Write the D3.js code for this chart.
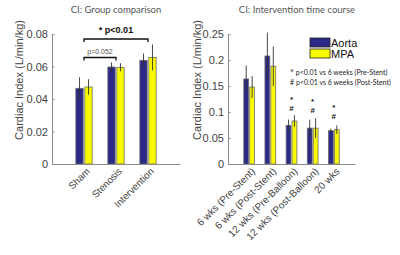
<!DOCTYPE html>
<html><head><meta charset="utf-8">
<script src="https://cdn.jsdelivr.net/npm/d3@7"></script>
<style>body{margin:0;background:#fff}svg{display:block}</style>
</head><body>
<script>
// ---- data ----
const categoriesA = ["Sham", "Stenosis", "Intervention"];
const aortaA = [0.0466, 0.0597, 0.0638];
const mpaA = [0.0474, 0.0595, 0.0656];
const aortaErrA = [0.0068, 0.0028, 0.0042];
const mpaErrA = [0.0048, 0.0025, 0.0080];
const ticksA = [0, 0.02, 0.04, 0.06, 0.08];

const categoriesB = ["6 wks (Pre-Stent)", "6 wks (Post-Stent)", "12 wks (Pre-Balloon)", "12 wks (Post-Balloon)", "20 wks"];
const aortaB = [0.1635, 0.2077, 0.0744, 0.069, 0.064];
const mpaB = [0.148, 0.188, 0.0827, 0.069, 0.066];
const aortaErrB = [0.026, 0.045, 0.011, 0.016, 0.004];
const mpaErrB = [0.021, 0.038, 0.011, 0.019, 0.008];
const marksB = [false, false, true, true, true];
const ticksB = [0, 0.05, 0.1, 0.15, 0.2, 0.25];

const seriesNames = ["Aorta", "MPA"];
const colors = ["#2c2a86", "#fafa00"];

const W = 400, H = 255;
const svg = d3.select("body").append("svg").attr("width", W).attr("height", H);

function panel(opts) {
  const {cats, a, m, ea, em, ticks, xr, yTop, yMax, title, titleX, ylabX, ylabFmt, labFs} = opts;
  const x = d3.scaleLinear().domain([0, cats.length + 1]).range(xr);
  const y = d3.scaleLinear().domain([0, yMax]).range([164, yTop]);
  const g = svg.append("g");
  const bw = 0.23, off = 0.14;
  const rows = cats.map((c, i) => ({i, c, a: a[i], m: m[i], ea: ea[i], em: em[i]}));
  // bars
  [["a", "ea", -off, colors[0]], ["m", "em", off, colors[1]]].forEach(([k, ek, o, col]) => {
    g.selectAll(null).data(rows).enter().append("rect")
      .attr("x", d => x(d.i + 1 + o - bw / 2))
      .attr("width", d => x(d.i + 1 + o + bw / 2) - x(d.i + 1 + o - bw / 2))
      .attr("y", d => y(d[k]))
      .attr("height", d => y(0) - y(d[k]))
      .attr("fill", col).attr("stroke", "#6e6e6e").attr("stroke-width", 0.8);
    g.selectAll(null).data(rows).enter().append("line")
      .attr("x1", d => x(d.i + 1 + o)).attr("x2", d => x(d.i + 1 + o))
      .attr("y1", d => y(d[k] - d[ek])).attr("y2", d => y(d[k] + d[ek]))
      .attr("stroke", "#333").attr("stroke-width", 0.9);
  });
  // axes
  const ya = d3.axisLeft(y).tickValues(ticks).tickFormat(d => d === 0 ? "0" : ylabFmt(d))
    .tickSizeInner(-2.5).tickSizeOuter(0).tickPadding(4);
  const yg = g.append("g").attr("transform", `translate(${xr[0]},0)`).call(ya);
  yg.select(".domain").attr("stroke", "#8a8a8a");
  yg.selectAll(".tick line").attr("stroke", "#8a8a8a");
  yg.selectAll("text").attr("font-family", "Arial, 'Liberation Sans', sans-serif")
    .attr("font-size", 11).attr("fill", "#444");
  const xa = d3.axisBottom(x).tickValues(cats.map((c, i) => i + 1)).tickFormat((d) => cats[d - 1])
    .tickSizeInner(0).tickSizeOuter(0).tickPadding(0);
  const xg = g.append("g").attr("transform", "translate(0,164)").call(xa);
  xg.select(".domain").attr("stroke", "#8a8a8a");
  xg.selectAll("text").attr("font-family", "Arial, 'Liberation Sans', sans-serif")
    .attr("font-size", labFs).attr("fill", "#444")
    .attr("text-anchor", "end").attr("dy", 0)
    .attr("transform", "translate(6,8) rotate(-45)");
  // title
  svg.append("text").attr("x", titleX).attr("y", 12.5).attr("text-anchor", "middle")
    .attr("font-family", "Lato, 'Open Sans', sans-serif").attr("font-size", 9.5).attr("fill", "#555")
    .text(title);
  // y label
  svg.append("text").attr("transform", `translate(${ylabX},80) rotate(-90)`)
    .attr("text-anchor", "middle").attr("font-family", "Arial, 'Liberation Sans', sans-serif")
    .attr("font-size", 11).attr("fill", "#444").text("Cardiac Index (L/min/kg)");
  return {x, y, g};
}

const fmt2 = d3.format(".2f");
const A = panel({cats: categoriesA, a: aortaA, m: mpaA, ea: aortaErrA, em: mpaErrA, ticks: ticksA,
  xr: [52, 180], yTop: 34, yMax: 0.08, title: "CI: Group comparison", titleX: 116, ylabX: 23,
  ylabFmt: fmt2, labFs: 9.8});
const B = panel({cats: categoriesB, a: aortaB, m: mpaB, ea: aortaErrB, em: mpaErrB, ticks: ticksB,
  xr: [228, 355], yTop: 34, yMax: 0.25, title: "CI: Intervention time course", titleX: 297, ylabX: 201,
  ylabFmt: d => d3.format("")(+d.toFixed(2)), labFs: 10});

// significance brackets on panel A
function bracket(x1, x2, yy) {
  svg.append("path").attr("d", `M${x1},${yy + 3}V${yy}H${x2}V${yy + 3}`)
    .attr("fill", "none").attr("stroke", "#111").attr("stroke-width", 1.3);
}
bracket(A.x(1), A.x(3), 39);
bracket(A.x(1), A.x(2), 57.5);
svg.append("text").attr("x", (A.x(1) + A.x(3)) / 2).attr("y", 32.5).attr("text-anchor", "middle")
  .attr("font-family", "Arial, 'Liberation Sans', sans-serif").attr("font-weight", "bold")
  .attr("font-size", 9).attr("fill", "#111").text("* p<0.01");
svg.append("text").attr("x", (A.x(1) + A.x(2)) / 2).attr("y", 53.5).attr("text-anchor", "middle")
  .attr("font-family", "Arial, 'Liberation Sans', sans-serif")
  .attr("font-size", 7).attr("fill", "#555").text("p=0.052");

// star / hash markers on panel B
categoriesB.forEach((c, i) => {
  if (!marksB[i]) return;
  const top = Math.max(aortaB[i] + aortaErrB[i], mpaB[i] + mpaErrB[i]);
  const base = Math.min(B.y(top) - 16, i === 4 ? 107 : 101);
  const cx = B.x(i + 1);
  svg.append("text").attr("x", cx).attr("y", base + 3).attr("text-anchor", "middle")
    .attr("font-family", "Arial, sans-serif").attr("font-weight", "bold").attr("font-size", 8)
    .attr("fill", "#111").text("*");
  svg.append("text").attr("x", cx).attr("y", base + 12).attr("text-anchor", "middle")
    .attr("font-family", "Arial, sans-serif").attr("font-weight", "bold").attr("font-size", 8)
    .attr("fill", "#111").text("#");
});

// legend
seriesNames.forEach((n, i) => {
  svg.append("rect").attr("x", 310).attr("y", 38 + i * 11).attr("width", 20).attr("height", 9)
    .attr("fill", colors[i]).attr("stroke", "#222").attr("stroke-width", 0.8);
  svg.append("text").attr("x", 331).attr("y", 46.5 + i * 11)
    .attr("font-family", "Arial, 'Liberation Sans', sans-serif").attr("font-size", 11)
    .attr("fill", "#111").text(n);
});
// annotation
const notes = [["*", "p<0.01 vs 6 weeks (Pre-Stent)"], ["#", "p<0.01 vs 6 weeks (Post-Stent)"]];
notes.forEach(([s, t], i) => {
  const tx = svg.append("text").attr("x", 290).attr("y", 74.5 + i * 10.5)
    .attr("font-family", "Lato, 'Open Sans', sans-serif").attr("font-size", 7).attr("fill", "#222");
  tx.append("tspan").attr("font-size", i === 0 ? 9 : 7).attr("dy", i === 0 ? 1 : 0).text(s);
  tx.append("tspan").attr("dy", i === 0 ? -1 : 0).attr("dx", 2).text(t);
});
</script>
</body></html>
